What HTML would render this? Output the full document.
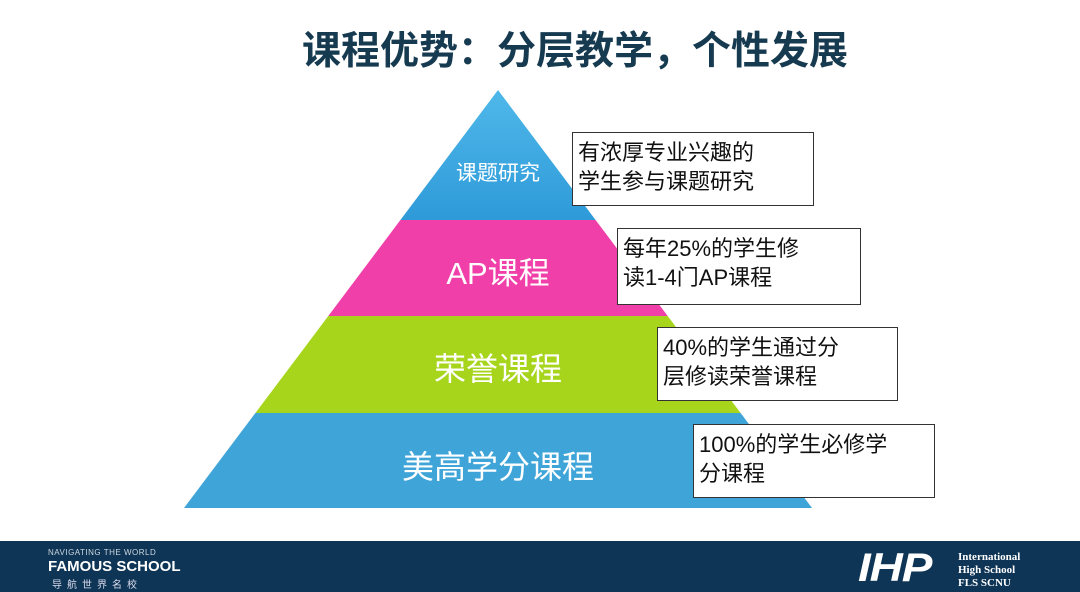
<!DOCTYPE html>
<html><head><meta charset="utf-8"><style>
body{margin:0;width:1080px;height:592px;overflow:hidden;background:#fff;font-family:"Liberation Sans","Noto Sans CJK SC",sans-serif;position:relative}
.t{position:absolute;left:270px;width:610px;top:20px;text-align:center;font-size:39px;font-weight:bold;color:#163a50;white-space:nowrap}
.b{position:absolute;border:1.5px solid #333;background:#fff;font-size:22px;line-height:29px;padding:5px 0 0 5px;box-sizing:border-box;color:#111;white-space:nowrap}
.l{position:absolute;color:#fff;text-align:center;white-space:nowrap}
.f{position:absolute;left:0;top:541px;width:1080px;height:51px;background:#0e3556}
</style></head><body>
<div class="t">课程优势：分层教学，个性发展</div>
<svg width="1080" height="592" style="position:absolute;left:0;top:0">
<defs><linearGradient id="g1" x1="0" y1="0" x2="0" y2="1"><stop offset="0" stop-color="#4fb8ea"/><stop offset="1" stop-color="#2e9ad8"/></linearGradient></defs>
<polygon points="498,90 595.6,220 400.4,220" fill="url(#g1)"/>
<polygon points="400.4,220 595.6,220 667.7,316 328.3,316" fill="#f03fa9"/>
<polygon points="328.3,316 667.7,316 740.6,413 255.4,413" fill="#a6d51b"/>
<polygon points="255.4,413 740.6,413 812,508 184,508" fill="#3fa4d8"/>
</svg>
<div class="l" style="left:398px;width:200px;top:157px;font-size:21px">课题研究</div>
<div class="l" style="left:398px;width:200px;top:248px;font-size:31px">AP课程</div>
<div class="l" style="left:398px;width:200px;top:344px;font-size:32px">荣誉课程</div>
<div class="l" style="left:348px;width:300px;top:442px;font-size:32px">美高学分课程</div>
<div class="b" style="left:572px;top:132px;width:242px;height:74px">有浓厚专业兴趣的<br>学生参与课题研究</div>
<div class="b" style="left:617px;top:228px;width:244px;height:77px">每年25%的学生修<br>读1-4门AP课程</div>
<div class="b" style="left:657px;top:327px;width:241px;height:74px">40%的学生通过分<br>层修读荣誉课程</div>
<div class="b" style="left:693px;top:424px;width:242px;height:74px">100%的学生必修学<br>分课程</div>
<div class="f">
<div style="position:absolute;left:48px;top:7px;color:#cfd8e0;font-size:8px;letter-spacing:0.5px">NAVIGATING THE WORLD</div>
<div style="position:absolute;left:48px;top:17px;color:#fff;font-size:15px;font-weight:bold">FAMOUS SCHOOL</div>
<div style="position:absolute;left:52px;top:35px;color:#dde;font-size:10px;letter-spacing:5px">导航世界名校</div>
<div style="position:absolute;left:858px;top:7px;color:#fff;font-size:40px;font-weight:bold;font-style:italic;font-family:'Liberation Sans',sans-serif;line-height:40px;letter-spacing:-1px;transform:scaleX(1.15);transform-origin:left">IHP</div>
<div style="position:absolute;left:958px;top:10px;color:#fff;font-size:11px;line-height:13px;font-family:'Liberation Serif',serif;font-weight:bold">International<br>High School<br>FLS SCNU</div>
</div>
</body></html>
